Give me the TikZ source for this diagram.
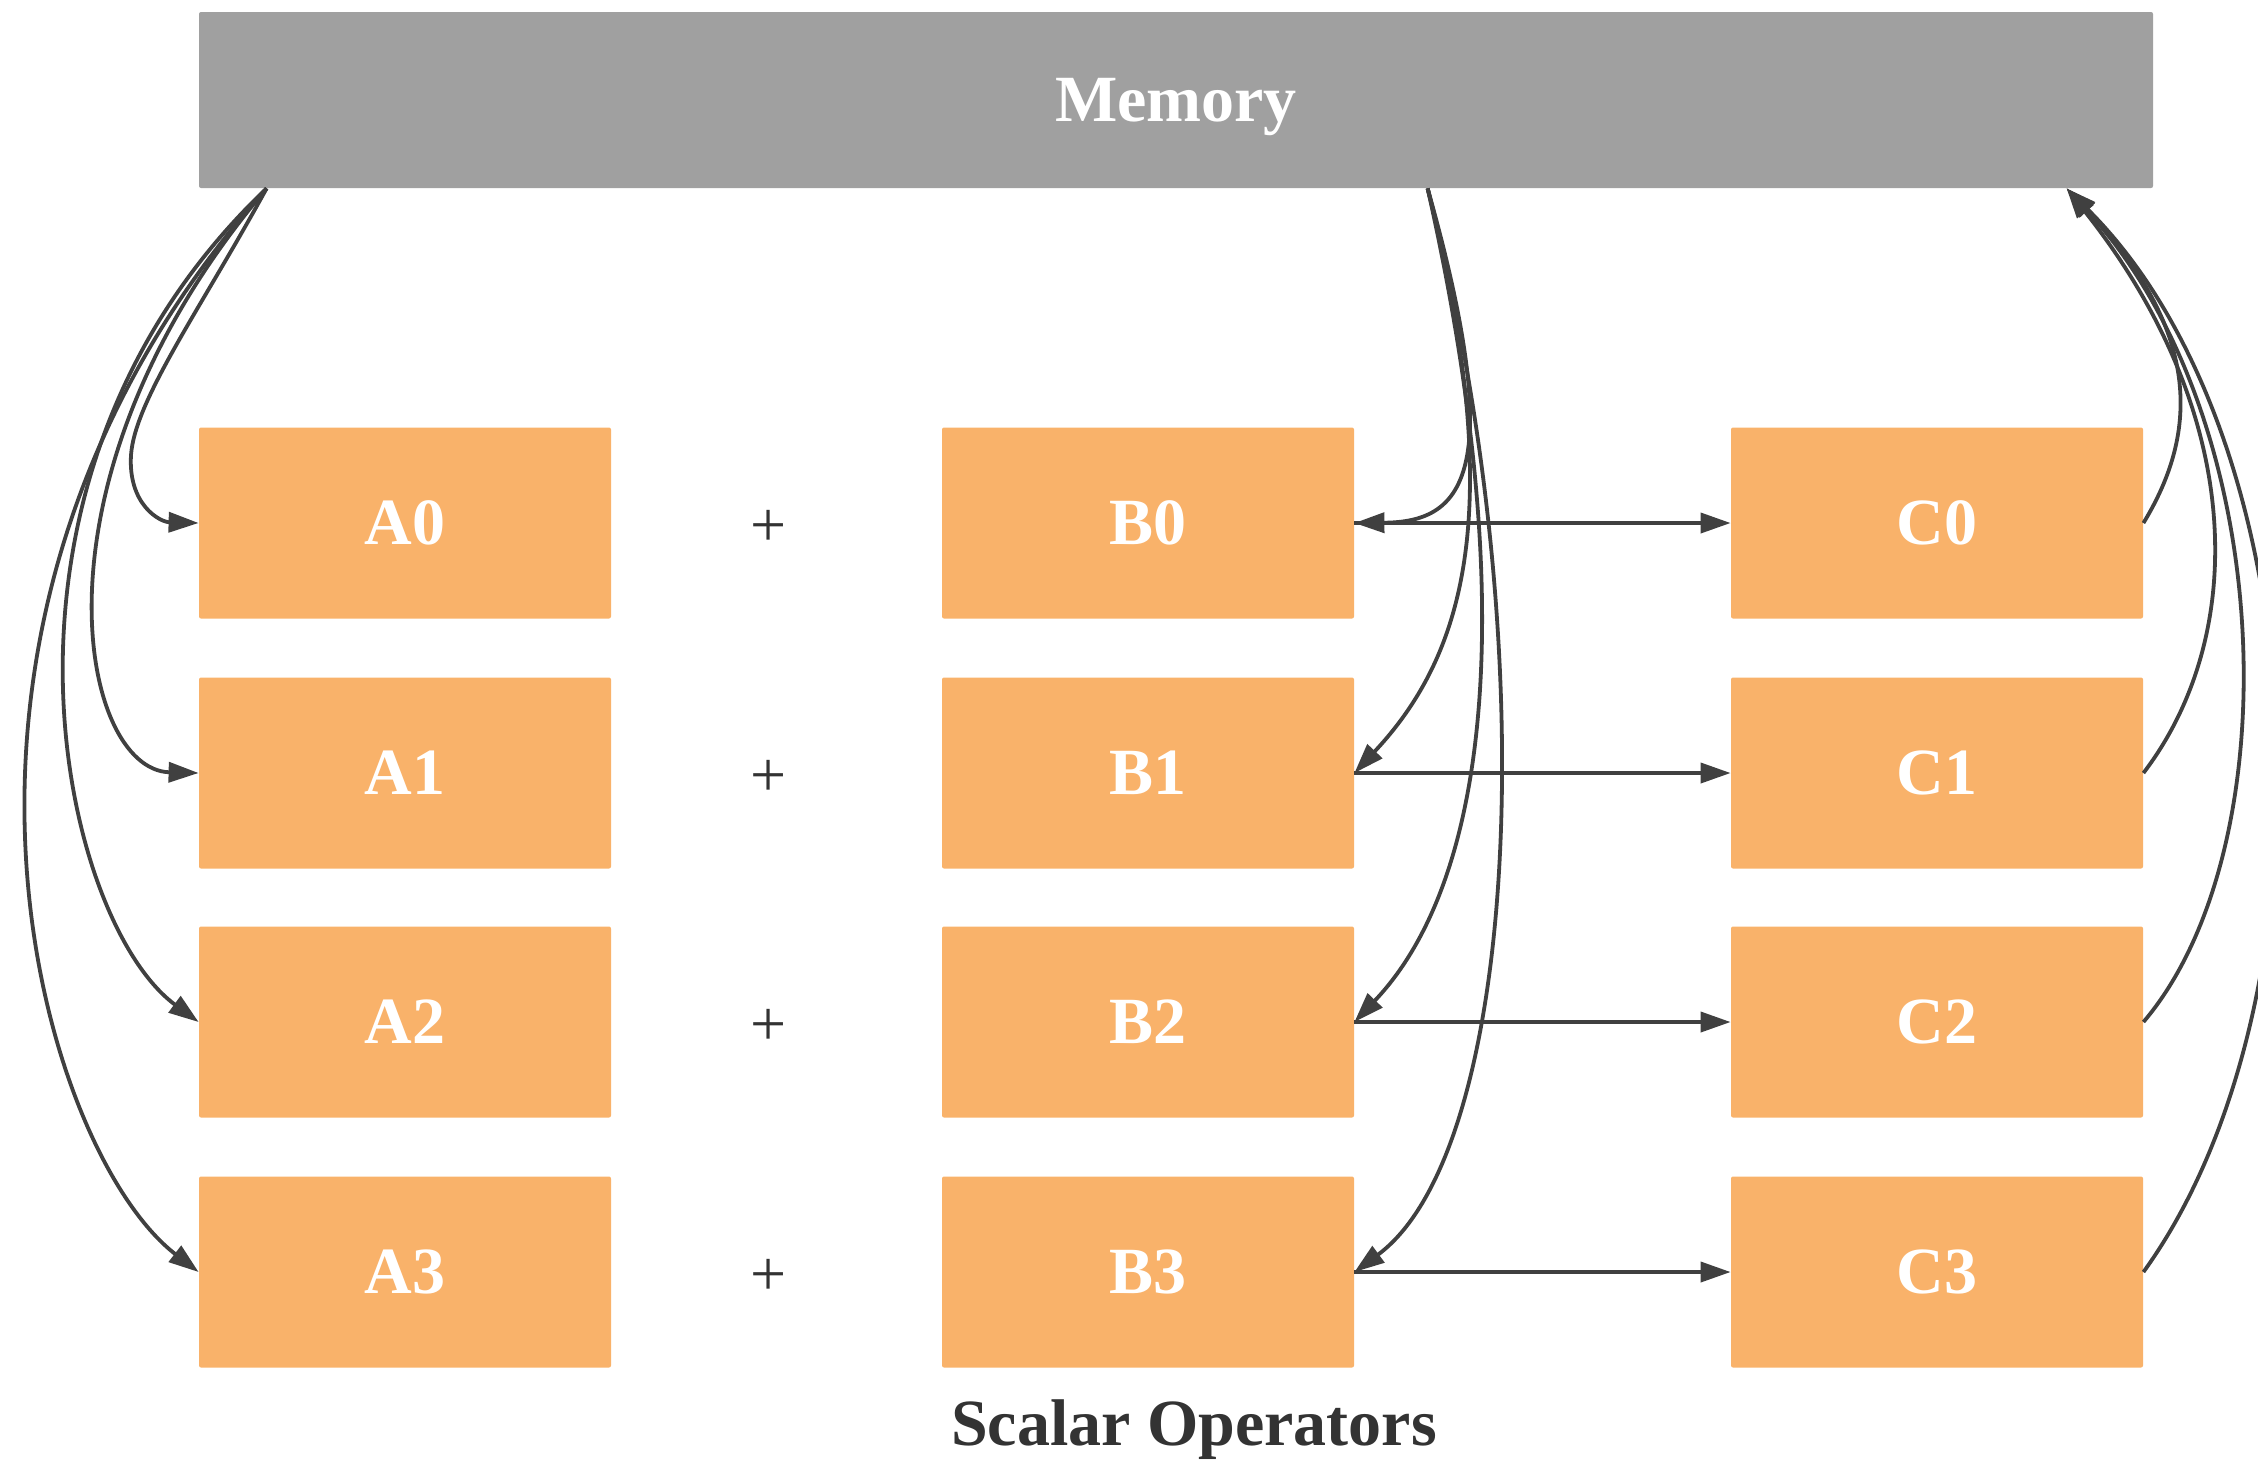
\documentclass[tikz,border=0pt]{standalone}
\usepackage{fontspec}
\setmainfont{Liberation Serif}
\usetikzlibrary{arrows.meta,calc}
\definecolor{boxorange}{RGB}{249,178,106}
\definecolor{memgray}{RGB}{160,160,160}
\definecolor{wire}{RGB}{64,64,64}
\definecolor{ink}{RGB}{51,51,51}

\begin{document}
\begin{tikzpicture}[x=0.5pt,y=-0.5pt,
  cell/.style={fill=boxorange, minimum width=206pt, minimum height=95.5pt,
    inner sep=0pt, text=white, font=\fontsize{33}{40}\selectfont\bfseries,
    text depth=0pt, rounded corners=1pt},
  mem/.style={fill=memgray, minimum width=977pt, minimum height=88pt,
    inner sep=0pt, text=white, font=\fontsize{33}{40}\selectfont\bfseries,
    text depth=0pt, rounded corners=1pt},
  plus/.style={text=ink, inner sep=0pt, font=\fontsize{32}{38}\selectfont},
  caption/.style={text=ink, inner sep=0pt, anchor=base,
    font=\fontsize{33}{40}\selectfont\bfseries},
  link/.style={draw=wire, line width=1.9pt, -{Triangle[length=15pt,width=10pt]}},
  ]
\useasboundingbox (0,0) rectangle (2258,1464);

% memory bank
\node[mem] (Mem) at (1176,100) {Memory};

% operand and result registers
\foreach \r/\y in {0/523,1/773,2/1022,3/1272} {
  \node[cell] (A\r) at (405,\y)  {A\r};
  \node[cell] (B\r) at (1148,\y) {B\r};
  \node[cell] (C\r) at (1937,\y) {C\r};
  \node[plus] (P\r) at (769,\y+5)  {+};
}

\node[caption] (title) at (1194,1445) {Scalar Operators};

% ports on the memory bank
\coordinate (mA) at ($(Mem.south west)+(68,0)$);
\coordinate (mB) at ($(Mem.south west)+(1229,0)$);
\coordinate (mC) at ($(Mem.south west)+(1868,0)$);

% loads of A
\draw[link] (mA) .. controls (200,310) and (135,400) .. (131,455)
                 .. controls (128,505) and (160,522) .. (A0.west);
\draw[link] (mA) .. controls (20,480) and (80,770) .. (A1.west);
\draw[link] (mA) .. controls (-40,480) and (60,920) .. (A2.west);
\draw[link] (mA) .. controls (-120,620) and (40,1150) .. (A3.west);

% loads of B
\draw[link] (mB) .. controls (1510,480) and (1460,522) .. (B0.east);
\draw[link] (mB) .. controls (1505,500) and (1470,650) .. (B1.east);
\draw[link] (mB) .. controls (1520,600) and (1490,880) .. (B2.east);
\draw[link] (mB) .. controls (1545,640) and (1520,1150) .. (B3.east);

% results
\foreach \r in {0,1,2,3} {
  \draw[link] (B\r.east) -- (C\r.west);
}

% stores of C
\draw[link] (C0.east) .. controls (2200,430) and (2200,330) .. (mC);
\draw[link] (C1.east) .. controls (2245,640) and (2250,420) .. (mC);
\draw[link] (C2.east) .. controls (2290,850) and (2280,420) .. (mC);
\draw[link] (C3.east) .. controls (2340,1000) and (2320,440) .. (mC);
\end{tikzpicture}
\end{document}
